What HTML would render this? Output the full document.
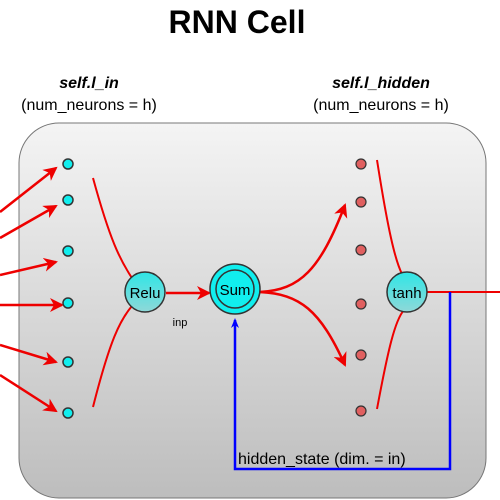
<!DOCTYPE html>
<html><head><style>html,body{margin:0;padding:0;background:#fff;overflow:hidden}svg{display:block}</style></head><body>
<svg width="500" height="500" viewBox="0 0 500 500" xmlns="http://www.w3.org/2000/svg" font-family="Liberation Sans, sans-serif">
<defs>
<linearGradient id="bg" x1="0" y1="0" x2="0" y2="1"><stop offset="0" stop-color="#f4f4f4"/><stop offset="1" stop-color="#bdbdbd"/></linearGradient>
<linearGradient id="cy" x1="0" y1="0" x2="0" y2="1"><stop offset="0" stop-color="#2fe6e6"/><stop offset="1" stop-color="#8fd8d8"/></linearGradient>
<marker id="ar" markerWidth="14" markerHeight="14" refX="12" refY="7" orient="auto" markerUnits="userSpaceOnUse"><path d="M0,0 L14,7 L0,14 L4,7z" fill="#e00"/></marker>
<marker id="ab" markerWidth="10" markerHeight="10" refX="8" refY="5" orient="auto" markerUnits="userSpaceOnUse"><path d="M0,1 L10,5 L0,9 L3,5z" fill="#00f"/></marker>
</defs>
<text x="237" y="33" text-anchor="middle" font-size="32" font-weight="bold">RNN Cell</text>
<text x="89" y="88" text-anchor="middle" font-size="16" font-weight="bold" font-style="italic">self.l_in</text>
<text x="89" y="110" text-anchor="middle" font-size="16">(num_neurons = h)</text>
<text x="381" y="88" text-anchor="middle" font-size="16" font-weight="bold" font-style="italic">self.l_hidden</text>
<text x="381" y="110" text-anchor="middle" font-size="16">(num_neurons = h)</text>
<rect x="19" y="123" width="467" height="375" rx="40" fill="url(#bg)" stroke="#777"/>
<g stroke="#e00" stroke-width="2.5" fill="none" marker-end="url(#ar)">
<line x1="0" y1="212" x2="56" y2="168"/>
<line x1="0" y1="238" x2="56" y2="206"/>
<line x1="0" y1="275" x2="56" y2="262"/>
<line x1="0" y1="305" x2="62" y2="305"/>
<line x1="0" y1="345" x2="56" y2="362"/>
<line x1="0" y1="375" x2="56" y2="411"/>
<line x1="166" y1="293" x2="209" y2="293"/>
<path d="M260,292 C300,290 320,270 345,205"/>
<path d="M260,292 C300,294 320,310 345,365"/>
</g>
<g stroke="#e00" stroke-width="2" fill="none">
<path d="M93,178 C110,240 120,260 132,278"/>
<path d="M93,407 C110,340 120,320 132,306"/>
<path d="M377,160 C388,230 395,260 402,274"/>
<path d="M377,409 C388,350 395,320 404,310"/>
<line x1="427" y1="292" x2="500" y2="292"/>
</g>
<path d="M450,292 V469 H235 V320" stroke="#00f" stroke-width="2.5" fill="none" marker-end="url(#ab)"/>
<g fill="#1ee" stroke="#333" stroke-width="1.5">
<circle cx="68" cy="164" r="5"/><circle cx="68" cy="200" r="5"/><circle cx="68" cy="251" r="5"/><circle cx="68" cy="303" r="5"/><circle cx="68" cy="362" r="5"/><circle cx="68" cy="413" r="5"/>
</g>
<g fill="#e06060" stroke="#333" stroke-width="1.2">
<circle cx="361" cy="164" r="5"/><circle cx="361" cy="202" r="5"/><circle cx="361" cy="250" r="5"/><circle cx="361" cy="304" r="5"/><circle cx="361" cy="355" r="5"/><circle cx="361" cy="411" r="5"/>
</g>
<circle cx="145" cy="292" r="20" fill="url(#cy)" stroke="#333" stroke-width="1.5"/>
<text x="145" y="298" text-anchor="middle" font-size="15">Relu</text>
<circle cx="235" cy="289" r="25" fill="#1ee" stroke="#333" stroke-width="1.5"/>
<circle cx="235" cy="289" r="19" fill="none" stroke="#333" stroke-width="1.5"/>
<text x="235" y="295" text-anchor="middle" font-size="15">Sum</text>
<circle cx="407" cy="292" r="20" fill="url(#cy)" stroke="#333" stroke-width="1.5"/>
<text x="407" y="298" text-anchor="middle" font-size="15">tanh</text>
<text x="180" y="326" text-anchor="middle" font-size="11">inp</text>
<text x="238" y="464" font-size="16">hidden_state (dim. = in)</text>
</svg>
</body></html>
